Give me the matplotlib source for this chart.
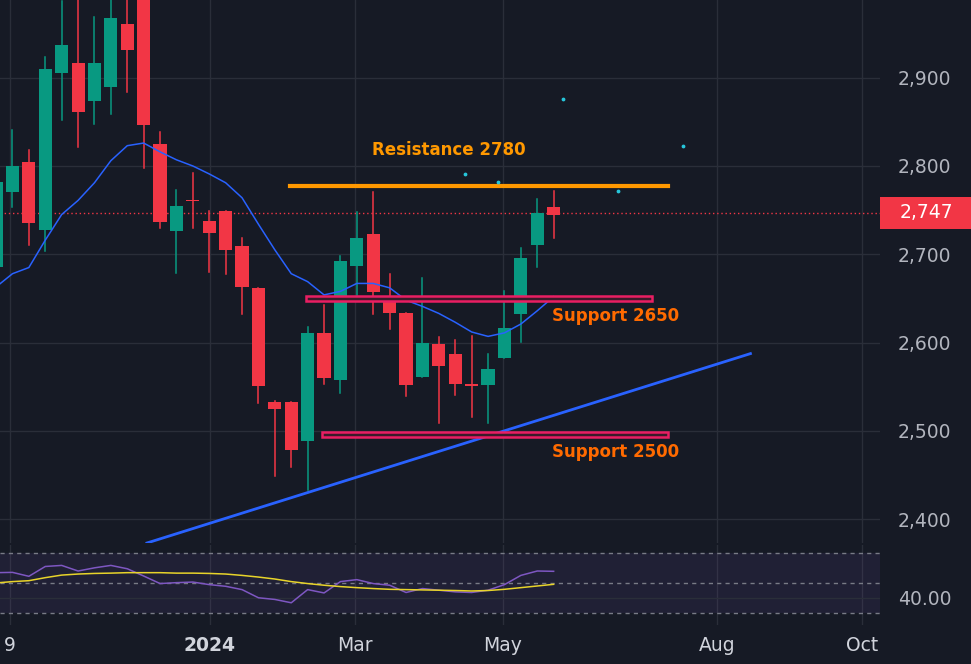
import matplotlib
matplotlib.use("Agg")
import matplotlib.pyplot as plt
import matplotlib.transforms as mtransforms
from matplotlib.patches import Rectangle

# ---- data (weekly candles) ----
opens  = [2686,2771,2804,2728,2905,2917,2874,2890,2961,3000,2825,2726,2762,2738,2749,2709,2662,2533,2533,2488,
          2611,2558,2687,2723,2649,2633,2561,2598,2587,2553,2552,2582,2632,2711,2754]
closes = [2782,2800,2735,2910,2937,2861,2917,2968,2931,2846,2736,2755,2760,2724,2705,2663,2551,2525,2478,2611,
          2560,2692,2718,2657,2633,2552,2600,2574,2553,2551,2570,2616,2696,2747,2744]
highs  = [2790,2841,2818,2923,2987,2994,2969,2994,2994,3011,2839,2773,2792,2749,2749,2719,2662,2534,2533,2618,
          2643,2698,2748,2771,2678,2633,2673,2606,2603,2607,2587,2658,2707,2763,2772]
lows   = [2677,2754,2710,2704,2852,2821,2847,2859,2884,2798,2730,2679,2730,2680,2678,2632,2532,2449,2459,2433,
          2553,2543,2654,2632,2615,2539,2561,2509,2541,2516,2509,2582,2601,2686,2719]
ma_line = [2663,2678,2685,2716,2745,2761,2781,2806,2823,2826,2816,2807,2800,2791,2781,2764,2734,2705,2678,2669,
           2654,2658,2667,2667,2662,2648,2641,2633,2623,2612,2607,2611,2621,2636,2652]
rsi = [56.7,56.9,54.3,60.8,61.5,57.8,59.9,61.5,59.3,54.5,49.5,50.1,50.5,48.8,47.7,45.5,40.1,39.0,36.8,45.5,
       43.3,50.8,52.1,49.5,48.4,43.6,46.2,45.1,44.0,43.6,45.1,48.8,54.9,57.8,57.6]
rsi_ma = [49.9,50.8,51.4,53.4,55.1,55.8,56.2,56.4,56.7,56.7,56.7,56.4,56.4,56.2,55.8,54.9,53.8,52.5,50.8,49.5,
          48.4,47.5,46.8,46.2,45.7,45.5,45.3,45.1,44.9,44.6,44.9,45.7,46.8,47.9,49.0]
last_price = 2747
price_ticks = [2400, 2500, 2600, 2700, 2800, 2900]
x_tick_pos = [0.85, 13.04, 21.9, 30.9, 43.95, 52.8]
x_tick_labels = ["9", "2024", "Mar", "May", "Aug", "Oct"]
resistance = dict(level=2777, x0=17.9, x1=41.0, label="Resistance 2780")
supports = [dict(lo=2647, hi=2653, x0=18.9, x1=40.0, label="Support 2650"),
            dict(lo=2493, hi=2499, x0=19.9, x1=41.0, label="Support 2500")]
trend_x = [9.2, 46.0]
trend_y = [2373, 2587.5]
dots_x = [34.6, 28.6, 30.6, 37.9, 41.9]
dots_y = [2876, 2791, 2782, 2772, 2823]

BG = "#161a25"; GRID = "#2a2e39"; UP = "#089981"; DN = "#f23645"; TXT = "#b2b5be"

fig = plt.figure(figsize=(9.71, 6.64), dpi=100, facecolor=BG)
W, H = 971, 664
ax = fig.add_axes([0, (H-543)/H, 880/W, 543/H], facecolor=BG)
ax2 = fig.add_axes([0, (H-625)/H, 880/W, (625-545)/H], facecolor=BG)

xmin, xmax = 0.24, 53.9
for a in (ax, ax2):
    a.set_xlim(xmin, xmax)
    for s in a.spines.values():
        s.set_visible(False)
    for xp in x_tick_pos:
        a.axvline(xp, color=GRID, lw=1, zorder=0)

ax.set_ylim(2373, 2988)
for p in price_ticks:
    ax.axhline(p, color=GRID, lw=1, zorder=0)

for i, (o, c, h, l) in enumerate(zip(opens, closes, highs, lows)):
    col = UP if c >= o else DN
    ax.plot([i, i], [l, h], color=col, lw=1.1, zorder=3)
    ax.add_patch(Rectangle((i-0.4, min(o, c)), 0.8, max(abs(c-o), 1.5), color=col, zorder=4, lw=0))

ax.plot(range(len(ma_line)), ma_line, color="#2962ff", lw=1.1, zorder=5)
ax.plot(trend_x, trend_y, color="#2962ff", lw=2, zorder=5)
ax.plot([resistance["x0"], resistance["x1"]], [resistance["level"]]*2, color="#ff9800", lw=3, zorder=5)
ax.text(27.6, resistance["level"] + 41, resistance["label"],
        color="#ff9800", fontsize=12, fontweight="bold", ha="center", va="center")
for s in supports:
    ax.add_patch(Rectangle((s["x0"], s["lo"]), s["x1"]-s["x0"], s["hi"]-s["lo"], facecolor="#3a1a2a",
                           edgecolor="#e91e63", lw=1.8, zorder=6))
    ax.text(33.9, s["lo"] - 17, s["label"], color="#ff6a00", fontsize=12, fontweight="bold",
            ha="left", va="center")
ax.scatter(dots_x, dots_y, s=3, color="#26c6da", zorder=6)
ax.axhline(last_price, color=DN, lw=1, ls=(0, (1, 2)), zorder=2)

ax.yaxis.tick_right()
ax.set_yticks(price_ticks)
ax.set_yticklabels([f"{p:,}" for p in price_ticks])
ax.tick_params(axis="y", length=0, pad=13, labelsize=13.5, colors=TXT)
ax.set_xticks([])
trans = mtransforms.blended_transform_factory(ax.transAxes, ax.transData)
ax.add_patch(Rectangle((1.0, last_price - 18), 91/880, 36, transform=trans, facecolor=DN,
                       edgecolor="none", clip_on=False, zorder=7))
ax.text(1 + 46/880, last_price, f"{last_price:,}", transform=trans, ha="center", va="center",
        color="white", fontsize=13.5, clip_on=False, zorder=8)

# RSI pane
ax2.set_ylim(22.1, 75.0)
ax2.axhspan(30, 70, color="#7e57c2", alpha=0.1, lw=0)
for lv in (70, 50, 30):
    ax2.axhline(lv, color="#787b86", lw=1, ls=(0, (3, 3)))
ax2.axhline(40, color=GRID, lw=1)
ax2.plot(range(len(rsi)), rsi, color="#7e57c2", lw=1.1)
ax2.plot(range(len(rsi_ma)), rsi_ma, color="#e8d42a", lw=1.1)
ax2.yaxis.tick_right()
ax2.set_yticks([40])
ax2.set_yticklabels(["40.00"])
ax2.tick_params(axis="y", length=0, pad=13, labelsize=13.5, colors=TXT)
ax2.set_xticks(x_tick_pos)
ax2.set_xticklabels(x_tick_labels)
ax2.tick_params(axis="x", length=0, pad=8, labelsize=13.5, colors="#d1d4dc")
for t in ax2.get_xticklabels():
    if t.get_text() == "2024":
        t.set_fontweight("bold")

fig.savefig("out.png", dpi=100, facecolor=BG)
